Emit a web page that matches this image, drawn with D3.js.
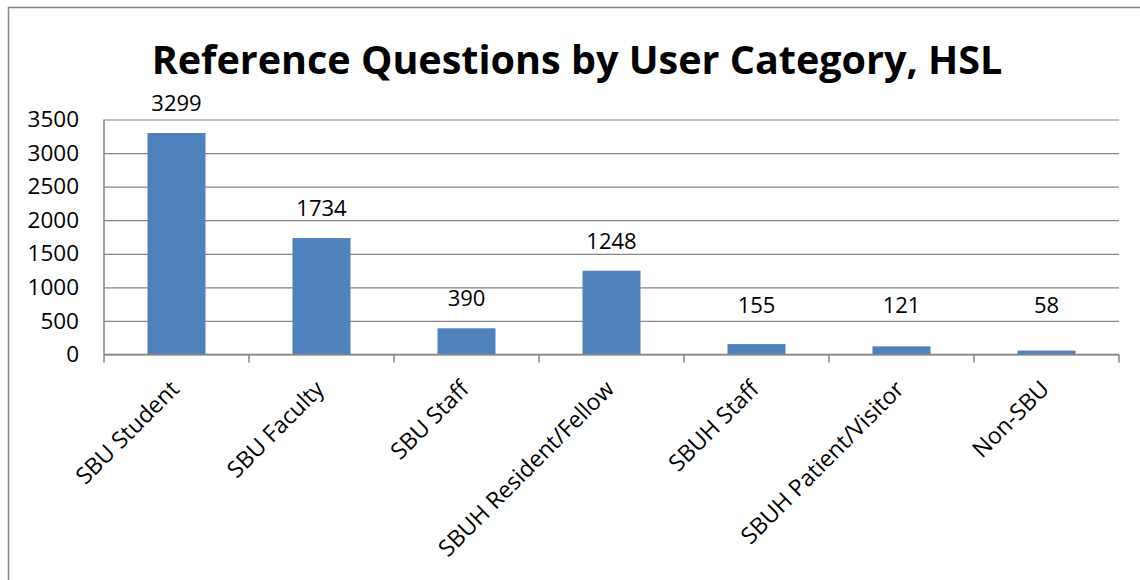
<!DOCTYPE html>
<html>
<head>
<meta charset="utf-8">
<script src="https://cdn.jsdelivr.net/npm/d3@7"></script>
<style>
  html, body { margin: 0; padding: 0; background: #fff; }
  svg { display: block; }
  text { font-family: "Open Sans", "DejaVu Sans", sans-serif; fill: #000; }
</style>
</head>
<body>
<svg id="chart" width="1140" height="580"></svg>
<script>
const titleText = "Reference Questions by User Category, HSL";
const categories = ["SBU Student", "SBU Faculty", "SBU Staff", "SBUH Resident/Fellow", "SBUH Staff", "SBUH Patient/Visitor", "Non-SBU"];
const questions = [3299, 1734, 390, 1248, 155, 121, 58];
const yTicks = [0, 500, 1000, 1500, 2000, 2500, 3000, 3500];

const W = 1140, H = 580;
const plot = { left: 104, right: 1119, top: 119.5, bottom: 354.5 };
const axisColor = "#868686";
const barColor = "#4F81BD";

const svg = d3.select("#chart");

// chart frame
svg.append("path")
  .attr("d", `M8.5,${H + 2} L8.5,7.5 L${W + 2},7.5`)
  .attr("fill", "none").attr("stroke", axisColor).attr("stroke-width", 1.5);

const x = d3.scaleBand().domain(categories).range([plot.left, plot.right])
  .paddingInner(0.6).paddingOuter(0.3);
const y = d3.scaleLinear().domain([0, 3500]).range([plot.bottom, plot.top]);

// gridlines + y axis
const yAxis = d3.axisLeft(y).tickValues(yTicks).tickFormat(d3.format("d")).tickSize(8).tickPadding(17);
const gy = svg.append("g").attr("transform", `translate(${plot.left},0)`).call(yAxis);
gy.select(".domain").remove();
gy.selectAll(".tick line").attr("stroke", axisColor).attr("stroke-width", 1.2).attr("x2", plot.right - plot.left);
gy.selectAll(".tick text").attr("font-size", 22.5).attr("font-family", "Open Sans").attr("fill", "#000");

// bars
svg.append("g").selectAll("rect").data(questions).join("rect")
  .attr("x", (d, i) => x(categories[i]))
  .attr("y", d => y(d))
  .attr("width", x.bandwidth())
  .attr("height", d => y(0) - y(d))
  .attr("fill", barColor);

// x axis with ticks at category boundaries
const step = x.step();
const boundaries = d3.range(categories.length + 1).map(i => plot.left + i * step);
const gx = svg.append("g");
gx.append("line").attr("x1", plot.left).attr("x2", plot.right)
  .attr("y1", y(0)).attr("y2", y(0)).attr("stroke", axisColor).attr("stroke-width", 1.5);
gx.append("line").attr("x1", plot.left).attr("x2", plot.left)
  .attr("y1", plot.top).attr("y2", y(0)).attr("stroke", axisColor).attr("stroke-width", 1.5);
gx.selectAll("line.tk").data(boundaries).join("line").attr("class", "tk")
  .attr("x1", d => d).attr("x2", d => d)
  .attr("y1", y(0)).attr("y2", y(0) + 8).attr("stroke", axisColor).attr("stroke-width", 1.5);

// category labels rotated -45
svg.append("g").selectAll("text").data(categories).join("text")
  .attr("text-anchor", "end")
  .attr("font-size", 23)
  .attr("transform", d => `translate(${x(d) + x.bandwidth() / 2 + 4},${y(0) + 36}) rotate(-45)`)
  .text(d => d);

// data labels (outside end)
const labelFloor = y(620);
svg.append("g").selectAll("text").data(questions).join("text")
  .attr("text-anchor", "middle")
  .attr("font-size", 22)
  .attr("x", (d, i) => x(categories[i]) + x.bandwidth() / 2)
  .attr("y", d => Math.min(y(d) - 22, labelFloor))
  .text(d => d);

// title
const title = svg.append("text")
  .attr("x", 577).attr("y", 74)
  .attr("text-anchor", "middle")
  .attr("font-weight", "bold")
  .attr("font-size", 30)
  .text(titleText);
const tw = title.node().getComputedTextLength();
title.attr("font-size", 30 * 851 / tw);
</script>
</body>
</html>
